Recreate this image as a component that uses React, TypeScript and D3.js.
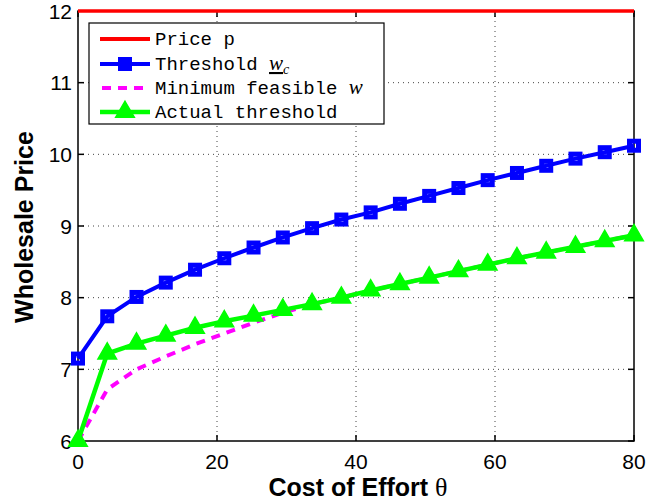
import { useEffect, useRef } from "react"
import * as d3 from "d3"

// cost of effort (x) samples
const thetas = [0, 4.21, 8.42, 12.63, 16.84, 21.05, 25.26, 29.47, 33.68, 37.89, 42.11, 46.32, 50.53, 54.74, 58.95, 63.16, 67.37, 71.58, 75.79, 80]
const price = [12, 12]
const priceX = [0, 80]
const thresholdWc = [7.15, 7.74, 8.01, 8.21, 8.39, 8.55, 8.7, 8.84, 8.97, 9.09, 9.19, 9.31, 9.42, 9.53, 9.64, 9.74, 9.84, 9.94, 10.03, 10.12]
const minFeasibleW = [6.0, 6.72, 7.0, 7.18, 7.35, 7.5, 7.65, 7.79, 7.91, 8.0, 8.1, 8.19, 8.28, 8.37, 8.46, 8.55, 8.63, 8.71, 8.79, 8.87]
const actualThreshold = [6.0, 7.22, 7.36, 7.47, 7.58, 7.67, 7.75, 7.83, 7.91, 8.0, 8.1, 8.19, 8.28, 8.37, 8.46, 8.55, 8.63, 8.71, 8.79, 8.87]
const xTicks = [0, 20, 40, 60, 80]
const yTicks = [6, 7, 8, 9, 10, 11, 12]

const W = 648
const H = 501
const PLOT = { left: 78, right: 634, top: 11, bottom: 441 }
const SANS = "Arial, 'Liberation Sans', Helvetica, sans-serif"
const MONO = "'Liberation Mono', 'Courier New', monospace"
const SERIF = "'Liberation Serif', 'Times New Roman', serif"

export default function App() {
  const svgRef = useRef<SVGSVGElement>(null)

  useEffect(() => {
    if (!svgRef.current) return
    const svg = d3.select(svgRef.current)
    svg.selectAll("*").remove()

    const x = d3.scaleLinear().domain([0, 80]).range([PLOT.left, PLOT.right])
    const y = d3.scaleLinear().domain([6, 12]).range([PLOT.bottom, PLOT.top])

    svg.append("rect").attr("width", W).attr("height", H).attr("fill", "#fff")

    // dotted grid
    const grid = svg.append("g").attr("stroke", "#444").attr("stroke-width", 1).attr("stroke-dasharray", "1,4")
    xTicks.slice(1, -1).forEach((t) => {
      grid.append("line").attr("x1", x(t)).attr("x2", x(t)).attr("y1", PLOT.top).attr("y2", PLOT.bottom)
    })
    yTicks.slice(1, -1).forEach((t) => {
      grid.append("line").attr("y1", y(t)).attr("y2", y(t)).attr("x1", PLOT.left).attr("x2", PLOT.right)
    })

    // axes box + inward ticks
    const axes = svg.append("g").attr("stroke", "#000").attr("stroke-width", 1.5).attr("fill", "none")
    axes.append("rect")
      .attr("x", PLOT.left).attr("y", PLOT.top)
      .attr("width", PLOT.right - PLOT.left).attr("height", PLOT.bottom - PLOT.top)
    xTicks.forEach((t) => {
      axes.append("line").attr("x1", x(t)).attr("x2", x(t)).attr("y1", PLOT.bottom).attr("y2", PLOT.bottom - 6)
      axes.append("line").attr("x1", x(t)).attr("x2", x(t)).attr("y1", PLOT.top).attr("y2", PLOT.top + 6)
    })
    yTicks.forEach((t) => {
      axes.append("line").attr("y1", y(t)).attr("y2", y(t)).attr("x1", PLOT.left).attr("x2", PLOT.left + 6)
      axes.append("line").attr("y1", y(t)).attr("y2", y(t)).attr("x1", PLOT.right).attr("x2", PLOT.right - 6)
    })

    // tick labels
    const labels = svg.append("g").attr("font-family", SANS).attr("font-size", 21).attr("fill", "#000")
    xTicks.forEach((t) => {
      labels.append("text").attr("x", x(t)).attr("y", 469).attr("text-anchor", "middle").text(t)
    })
    yTicks.forEach((t) => {
      labels.append("text").attr("x", 72).attr("y", y(t) + 7.5).attr("text-anchor", "end").text(t)
    })

    // axis titles
    const xt = svg.append("text")
      .attr("x", 358).attr("y", 496)
      .attr("text-anchor", "middle")
      .attr("font-family", SANS).attr("font-size", 25).attr("font-weight", "bold")
    xt.append("tspan").text("Cost of Effort ")
    xt.append("tspan").attr("font-family", SERIF).attr("font-weight", "normal").attr("font-size", 26).text("θ")

    svg.append("text")
      .attr("transform", `translate(33,227) rotate(-90)`)
      .attr("text-anchor", "middle")
      .attr("font-family", SANS).attr("font-size", 25).attr("font-weight", "bold")
      .text("Wholesale Price")

    // series
    const line = d3.line<number>().x((_, i) => x(thetas[i])).y((d) => y(d))

    svg.append("path")
      .datum(price)
      .attr("fill", "none").attr("stroke", "#ff0000").attr("stroke-width", 3.5)
      .attr("d", d3.line<number>().x((_, i) => x(priceX[i])).y((d) => y(d)))

    svg.append("path")
      .datum(thresholdWc)
      .attr("fill", "none").attr("stroke", "#0000ff").attr("stroke-width", 4)
      .attr("d", line)
    svg.append("g").selectAll("rect").data(thresholdWc).join("rect")
      .attr("x", (_, i) => x(thetas[i]) - 4.5).attr("y", (d) => y(d) - 4.5)
      .attr("width", 9).attr("height", 9)
      .attr("fill", "none").attr("stroke", "#0000ff").attr("stroke-width", 5)

    svg.append("path")
      .datum(minFeasibleW)
      .attr("fill", "none").attr("stroke", "#ff00ff").attr("stroke-width", 4)
      .attr("stroke-dasharray", "9,7")
      .attr("d", line)

    svg.append("path")
      .datum(actualThreshold)
      .attr("fill", "none").attr("stroke", "#00ff00").attr("stroke-width", 4.5)
      .attr("d", line)
    const tri = d3.symbol().type(d3.symbolTriangle).size(150)
    svg.append("g").selectAll("path").data(actualThreshold).join("path")
      .attr("transform", (d, i) => `translate(${x(thetas[i])},${y(d)})`)
      .attr("d", tri)
      .attr("fill", "#00ff00").attr("stroke", "#00ff00").attr("stroke-width", 1.5)

    // legend
    const lg = svg.append("g").attr("transform", "translate(89,23)")
    lg.append("rect").attr("width", 295).attr("height", 101).attr("fill", "#fff").attr("stroke", "#000").attr("stroke-width", 1.2)
    const rows = [16, 41, 65, 89]
    const sx1 = 11
    const sx2 = 61
    lg.append("line").attr("x1", sx1).attr("x2", sx2).attr("y1", rows[0]).attr("y2", rows[0]).attr("stroke", "#ff0000").attr("stroke-width", 4)
    lg.append("line").attr("x1", sx1).attr("x2", sx2).attr("y1", rows[1]).attr("y2", rows[1]).attr("stroke", "#0000ff").attr("stroke-width", 4)
    lg.append("rect").attr("x", 31.5).attr("y", rows[1] - 4.5).attr("width", 9).attr("height", 9).attr("fill", "#0000ff").attr("stroke", "#0000ff").attr("stroke-width", 5)
    lg.append("line").attr("x1", sx1 + 2).attr("x2", sx2).attr("y1", rows[2]).attr("y2", rows[2]).attr("stroke", "#ff00ff").attr("stroke-width", 4).attr("stroke-dasharray", "9,7")
    lg.append("line").attr("x1", sx1).attr("x2", sx2).attr("y1", rows[3]).attr("y2", rows[3]).attr("stroke", "#00ff00").attr("stroke-width", 4.5)
    lg.append("path").attr("transform", `translate(36,${rows[3]})`).attr("d", tri).attr("fill", "#00ff00").attr("stroke", "#00ff00").attr("stroke-width", 1.5)

    const tx = 66
    const tf = (i: number) => lg.append("text").attr("x", tx).attr("y", rows[i] + 6).attr("font-family", MONO).attr("font-size", 19).attr("fill", "#000")
    tf(0).text("Price p")
    const t1 = tf(1)
    t1.append("tspan").text("Threshold ")
    t1.append("tspan").attr("font-family", SERIF).attr("font-style", "italic").attr("font-size", 21).attr("text-decoration", "underline").text("w")
    t1.append("tspan").attr("font-family", SERIF).attr("font-style", "italic").attr("font-size", 14).attr("dy", 4).text("c")
    const t2 = tf(2)
    t2.append("tspan").text("Minimum feasible ")
    t2.append("tspan").attr("font-family", SERIF).attr("font-style", "italic").attr("font-size", 21).text("w")
    tf(3).text("Actual threshold")
  }, [])

  return (
    <svg
      ref={svgRef}
      width={W}
      height={H}
      style={{ position: "absolute", left: 0, top: 0, display: "block" }}
    />
  )
}
